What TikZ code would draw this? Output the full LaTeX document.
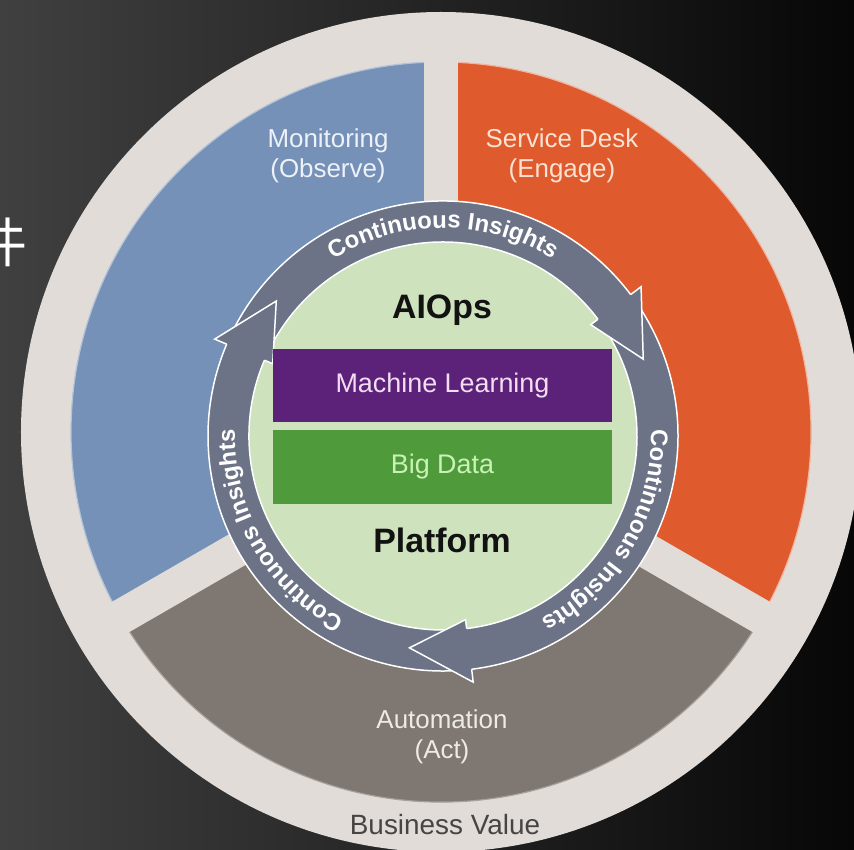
\documentclass[tikz,border=0pt]{standalone}
\usepackage{fontspec}
\setmainfont{Liberation Sans}
\newfontfamily\cjkfont{Noto Sans CJK SC}
\usetikzlibrary{decorations.text}
\definecolor{bgL}{HTML}{404040}
\definecolor{bgR}{HTML}{070707}
\definecolor{beigeC}{HTML}{E1DCD8}
\definecolor{monBlue}{HTML}{7591B8}
\definecolor{deskOrange}{HTML}{DF5A2C}
\definecolor{autoTaupe}{HTML}{7F7771}
\definecolor{discGreen}{HTML}{CEE2BD}
\definecolor{ringSlate}{HTML}{6C7387}
\definecolor{mlPurple}{HTML}{5C2279}
\definecolor{bdGreen}{HTML}{4F9A3B}
\definecolor{mlText}{HTML}{F3DDF3}
\definecolor{bdText}{HTML}{CBF2B6}
\definecolor{monText}{HTML}{EEF2F8}
\definecolor{deskText}{HTML}{FBE2D2}
\definecolor{autoText}{HTML}{EEEAE6}
\definecolor{bvText}{HTML}{474444}
\newcommand\arcfmt{\fontsize{24}{24}\selectfont\bfseries\color{white}}
\begin{document}
\begin{tikzpicture}[x=1bp,y=1bp,
  gapstrip/.style={draw=beigeC, line width=35},
  ringbody/.style={fill=ringSlate, draw=white, line width=1.5},
  headedge/.style={draw=white, line width=1.5, line join=miter},
  layerbox/.style={inner sep=0, minimum width=341, minimum height=73, font=\fontsize{27}{27}\selectfont},
  title/.style={inner sep=0, font=\fontsize{34}{34}\selectfont\bfseries, text=black!93},
  seglabel/.style={inner sep=0, align=center, font=\fontsize{26}{30}\selectfont},
  bvlabel/.style={inner sep=0, font=\fontsize{28}{28}\selectfont, text=bvText},
  cjklabel/.style={inner sep=0, font=\cjkfont\fontsize{54}{54}\selectfont, text=white}
]
\useasboundingbox (-441,-418) rectangle (413,432);
\shade[left color=bgL, right color=bgR] (-441,-418) rectangle (413,432);
\node[cjklabel] (jian) at (-441,190) {件};
% outer disc
\fill[beigeC] (0,0) circle[radius=420];
% sectors
\filldraw[fill=monBlue, draw=monBlue!55!white, line width=1.2] (0,0) -- (90:370) arc[start angle=90,end angle=210,radius=370] -- cycle;
\filldraw[fill=deskOrange, draw=deskOrange!45!white, line width=1.2] (0,0) -- (-30:370) arc[start angle=-30,end angle=90,radius=370] -- cycle;
\filldraw[fill=autoTaupe, draw=autoTaupe!70!white, line width=1.2] (0,0) -- (210:370) arc[start angle=210,end angle=330,radius=370] -- cycle;
\foreach \a in {90,210,330} \draw[gapstrip] (0,0) -- (\a:395);
% inner platform and ring
\begin{scope}[shift={(2,-4)}]
  \fill[discGreen] (0,0) circle[radius=194];
  \foreach \c in {90,330,210} {
    \draw[ringbody] ({\c+64}:235) arc[start angle=\c+64,end angle=\c-56,radius=235]
      -- ({\c-56}:194) arc[start angle=\c-56,end angle=\c+64,radius=194] -- cycle;
  }
  \foreach \c in {90,330,210} {
    \fill[ringSlate] ({\c-53}:235) -- ({\c-53}:248) -- ({\c-69}:214.5) -- ({\c-53}:185) -- ({\c-53}:194) -- cycle;
    \draw[headedge] ({\c-53}:235) -- ({\c-53}:248) -- ({\c-69}:214.5) -- ({\c-53}:185) -- ({\c-53}:194);
  }
  \foreach \c in {90,330,210} {
    \path[decorate,decoration={text along path,text align=center,text={|\arcfmt|Continuous Insights}}]
      ({\c+45}:208) arc[start angle=\c+45,end angle=\c-45,radius=208];
  }
\end{scope}
% layers
\node[layerbox, fill=mlPurple, text=mlText] (ml) at (1.5,46.5) {Machine Learning};
\node[layerbox, fill=bdGreen, text=bdText, minimum height=74] (bd) at (1.5,-35) {Big Data};
\node[title] (aiops) at (1,122) {AIOps};
\node[title] (platform) at (1,-108) {Platform};
% segment labels
\node[seglabel, text=monText] (mon) at (-113,276) {Monitoring\\(Observe)};
\node[seglabel, text=deskText] (desk) at (121,276) {Service Desk\\(Engage)};
\node[seglabel, text=autoText] (auto) at (1,-305) {Automation\\(Act)};
\node[bvlabel] (bv) at (4,-393) {Business Value};
\end{tikzpicture}
\end{document}
